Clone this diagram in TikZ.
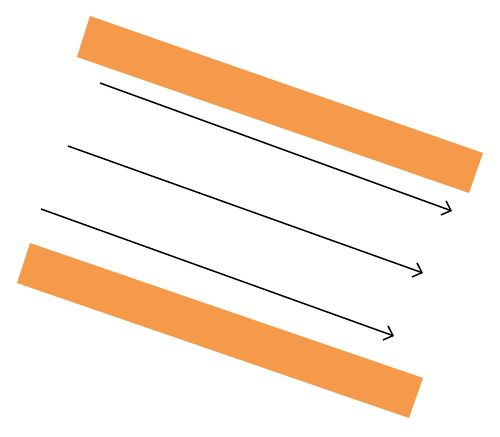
\documentclass[tikz,border=0pt]{standalone}
\usetikzlibrary{arrows.meta}
\definecolor{barorange}{RGB}{245,154,74}
\begin{document}
\begin{tikzpicture}[x=1pt,y=-1pt,
  bar/.style={fill=barorange,draw=none},
  ray/.style={black,line width=1.5pt,-{Straight Barb[length=8pt,width=15pt,line width=1.5pt]}}]
\useasboundingbox (0,0) rectangle (500,436);
\fill[bar] (90,16) -- (483,153) -- (469,193) -- (77,57) -- cycle;
\fill[bar] (30,243) -- (423,378) -- (409,418) -- (17,283) -- cycle;
\coordinate (a1) at (100,83);
\coordinate (b1) at (452,211);
\coordinate (a2) at (68,146);
\coordinate (b2) at (423,273);
\coordinate (a3) at (41,209);
\coordinate (b3) at (394,336);
\draw[ray] (a1) -- (b1);
\draw[ray] (a2) -- (b2);
\draw[ray] (a3) -- (b3);
\end{tikzpicture}
\end{document}
